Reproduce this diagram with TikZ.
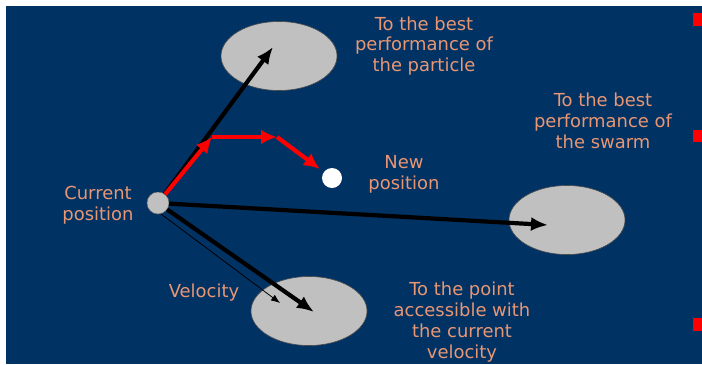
\documentclass[tikz,border=0pt]{standalone}
\usepackage{fontspec}
\setmainfont{DejaVu Sans}
\usetikzlibrary{arrows.meta,shapes.geometric}
\definecolor{bgblue}{RGB}{0,50,100}
\definecolor{salmon}{RGB}{233,150,115}
\definecolor{silv}{RGB}{192,192,192}
\definecolor{redd}{RGB}{255,0,0}
\tikzset{
  lbl/.style={text=salmon, align=center, inner sep=0pt, font=\fontsize{18}{21}\selectfont},
  target/.style={ellipse, draw=black!70, line width=0.6bp, fill=silv, minimum width=116bp, minimum height=69bp, inner sep=0pt},
  bigarrow/.style={line width=4.2bp, black, -{Latex[length=17bp,width=14bp]}},
  redarrow/.style={line width=4.2bp, redd, -{Latex[length=16bp,width=15bp]}},
  thinarrow/.style={line width=0.8bp, black, -{Latex[length=9bp,width=7bp]}},
  marker/.style={fill=redd, draw=none}
}
\begin{document}
\begin{tikzpicture}[x=1bp,y=-1bp]
\useasboundingbox (0,0) rectangle (702,364);
\fill[white] (0,0) rectangle (702,364);
\fill[bgblue] (6,6) rectangle (702,364);
% red markers at right edge
\fill[marker] (693,13) rectangle (702,26);
\fill[marker] (693,130) rectangle (702,142);
\fill[marker] (693,318) rectangle (702,331);
% targets
\node[target] (e1) at (279,56) {};
\node[target] (e2) at (567,220) {};
\node[target] (e3) at (309,311) {};
% particles
\node[circle, fill=silv, draw=black!60, line width=0.5bp, minimum size=22bp, inner sep=0pt] (cur) at (158,203) {};
\node[circle, fill=white, draw=none, minimum size=20bp, inner sep=0pt] (new) at (332,178) {};
% free ends
\coordinate (t1) at (273,47);
\coordinate (t2) at (548,225);
\coordinate (t3) at (314,312);
\coordinate (v0) at (161,214);
\coordinate (v1) at (280,303);
\coordinate (r1) at (212,137);
\coordinate (r2) at (277,137);
% arrows
\draw[bigarrow] (cur) -- (t1);
\draw[bigarrow] (cur) -- (t2);
\draw[bigarrow] (cur) -- (t3);
\draw[thinarrow] (v0) -- (v1);
\draw[redarrow] (cur) -- (r1);
\draw[redarrow] (r1) -- (r2);
\draw[redarrow, shorten >=5bp] (r2) -- (new);
% labels
\node[lbl] (lpart) at (424,46) {To the best\\performance of\\the particle};
\node[lbl] (lswarm) at (603,121) {To the best\\performance of\\the swarm};
\node[lbl] (lnew) at (404,174) {New\\position};
\node[lbl] (lcur) at (98,205) {Current\\position};
\node[lbl] (lvel) at (204,293) {Velocity};
\node[lbl] (lpoint) at (462,322) {To the point\\accessible with\\the current\\velocity};
\end{tikzpicture}
\end{document}
